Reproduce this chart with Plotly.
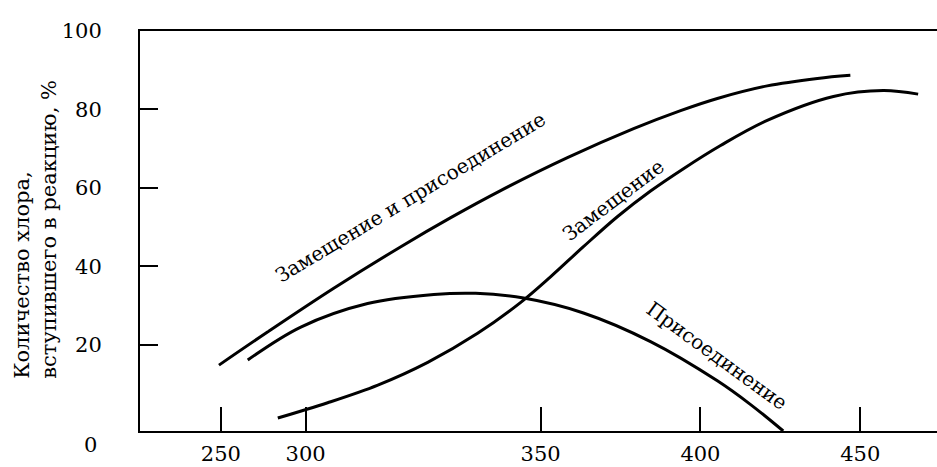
import plotly.graph_objects as go

# temperature (axis units) and chlorine reacted, %
t_total = [249.4, 264.7, 285.3, 306.3, 321.9, 337.5, 358.4, 379.1, 393.8, 405.3, 420.9, 436.6, 446.9]
y_total = [14.8, 23.3, 34.4, 45.0, 52.4, 59.3, 67.7, 75.1, 79.7, 82.8, 86.0, 87.9, 88.7]

t_subst = [267.8, 283.4, 299.1, 314.7, 330.3, 343.8, 353.1, 363.4, 374.1, 384.4, 394.7, 406.3, 420.9, 441.6, 457.2, 468.1]
y_subst = [1.3, 5.2, 9.7, 15.5, 22.9, 30.8, 37.3, 45.0, 52.7, 59.2, 64.9, 70.8, 77.2, 83.3, 84.8, 83.9]

t_add = [258.4, 275.0, 295.9, 316.6, 329.7, 344.7, 363.4, 384.4, 405.3, 415.6, 425.9]
y_add = [16.1, 24.5, 30.5, 32.8, 33.1, 31.9, 28.1, 20.8, 10.8, 4.8, -2.0]

# the printed figure puts its "300" tick well left of where 300 would fall
x_tick_pos = [250, 276.5, 350, 400, 450]
x_tick_text = ["250", "300", "350", "400", "450"]
y_tick_vals = [20, 40, 60, 80, 100]

curve_labels = ["Замещение и присоединение", "Замещение", "Присоединение"]
label_x = [309.4, 372.8, 405.3]
label_y = [57.7, 56.9, 17.1]
label_angle = [-31, -37, 36]

FONT = "DejaVu Serif, Liberation Serif, serif"

fig = go.Figure()
for xs, ys in [(t_total, y_total), (t_subst, y_subst), (t_add, y_add)]:
    fig.add_trace(go.Scatter(
        x=xs, y=ys,
        mode="lines",
        line=dict(color="black", width=3, shape="spline", smoothing=1.0),
        showlegend=False,
        hoverinfo="skip",
    ))

for text, x, y, ang in zip(curve_labels, label_x, label_y, label_angle):
    fig.add_annotation(x=x, y=y, xref="x", yref="y", text=text, textangle=ang,
                       showarrow=False, font=dict(family=FONT, size=20, color="black"))

# y-axis title, two lines starting from the same point
fig.add_annotation(
    x=-0.132, y=0.505, xref="paper", yref="paper",
    text="Количество хлора,<br>вступившего в реакцию, %",
    textangle=-90, align="left", showarrow=False,
    xanchor="center", yanchor="middle",
    font=dict(family=FONT, size=21, color="black"),
)
# stray zero at the origin
fig.add_annotation(x=-0.0615, y=-0.035, xref="paper", yref="paper", text="0",
                   showarrow=False, xanchor="center", yanchor="middle",
                   font=dict(family=FONT, size=21, color="black"))

fig.update_layout(
    width=937,
    height=467,
    plot_bgcolor="white",
    paper_bgcolor="white",
    margin=dict(l=140, r=0, t=31, b=36),
    font=dict(family=FONT, size=21, color="black"),
    xaxis=dict(
        range=[224.7, 474.0],
        tickvals=x_tick_pos,
        ticktext=x_tick_text,
        ticks="inside",
        ticklen=24,
        tickwidth=2,
        tickcolor="black",
        showgrid=False,
        zeroline=False,
        showline=True,
        linecolor="black",
        linewidth=2,
        mirror=True,
        ticklabelstandoff=3,
    ),
    yaxis=dict(
        range=[-2, 100],
        tickvals=y_tick_vals,
        ticks="inside",
        ticklen=18,
        tickwidth=2,
        tickcolor="black",
        showgrid=False,
        zeroline=False,
        showline=True,
        linecolor="black",
        linewidth=2,
        ticklabelstandoff=32,
    ),
)

fig.write_html("out.html", config={"displayModeBar": False},
               post_script="document.body.style.margin='0';document.body.style.overflow='hidden';")
